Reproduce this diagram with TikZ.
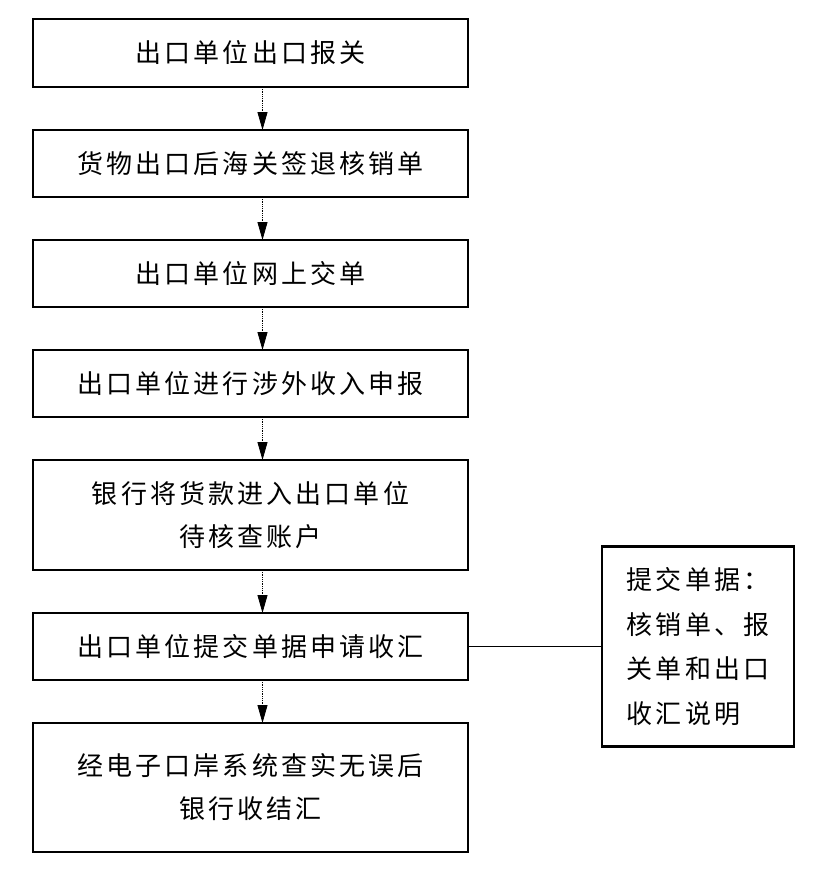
\documentclass[tikz,border=0pt]{standalone}
\usepackage{fontspec}
\newfontfamily\cjk[LetterSpace=12]{Noto Sans CJK SC}
\usetikzlibrary{arrows.meta,positioning}

\begin{document}
\begin{tikzpicture}[font=\cjk\fontsize{26bp}{43bp}\selectfont,node distance=43bp and 134bp,
      box/.style={draw,line width=2.6bp,outer sep=0pt,minimum width=435bp,minimum height=67bp,align=center,inner sep=0pt},
      note/.style={draw,line width=2.6bp,outer sep=0pt,minimum width=192bp,minimum height=200bp,align=left,inner sep=0pt,font=\cjk\fontsize{26bp}{44.5bp}\selectfont}]
    \useasboundingbox (0,0) rectangle (824bp,-869bp);
    \node[box,minimum height=68bp] (decl) at (250.5bp,-53bp) {出口单位出口报关};
    \node[box,below=of decl] (sign) {货物出口后海关签退核销单};
    \node[box,below=of sign] (web) {出口单位网上交单};
    \node[box,below=of web] (report) {出口单位进行涉外收入申报};
    \node[box,below=of report,minimum height=110bp] (bank) {银行将货款进入出口单位\\ 待核查账户};
    \node[box,below=of bank] (apply) {出口单位提交单据申请收汇};
    \node[box,below=of apply,minimum height=129bp] (settle) {经电子口岸系统查实无误后\\ 银行收结汇};
    \node[note,right=of apply] (docs) {提交单据：\\ 核销单、报\\ 关单和出口\\ 收汇说明};
    \foreach \a/\b in {decl/sign,sign/web,web/report,report/bank,bank/apply,apply/settle}
      \draw[-{Triangle[length=18bp,width=10bp]},densely dotted,line width=0.8bp] ([xshift=12bp]\a.south) -- ([xshift=12bp]\b.north);
    \draw[line width=1bp] (apply) -- (docs);
  \end{tikzpicture}
\end{document}
